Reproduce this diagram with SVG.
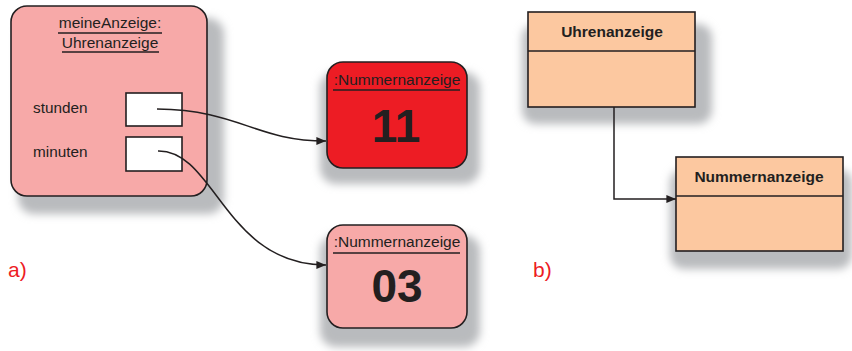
<svg xmlns="http://www.w3.org/2000/svg" width="852" height="351" viewBox="0 0 852 351">
<style>
.t{font-family:"Liberation Sans",Arial,sans-serif;fill:#231f20}
.obj{stroke:#231f20;stroke-width:1.6}
.ul{stroke:#231f20;stroke-width:1.5}
.cls{fill:#fcc8a0;stroke:#231f20;stroke-width:1.6}
.sh{fill:#b9bbbe;filter:url(#blur)}
.con{fill:none;stroke:#231f20;stroke-width:1.5}
.lbl{font-family:"Liberation Sans",Arial,sans-serif;fill:#ed1c24;font-size:21px}
</style>
<defs>
<filter id="blur" x="-20%" y="-20%" width="140%" height="140%"><feGaussianBlur stdDeviation="4"/></filter>
<marker id="arr" viewBox="0 0 12 10" refX="12" refY="5" markerWidth="12" markerHeight="8" markerUnits="userSpaceOnUse" orient="auto"><path d="M0,0 L12,5 L0,10 z" fill="#231f20"/></marker>
</defs>
<rect width="852" height="351" fill="#fff"/>

<g id="meineAnzeige">
<rect class="sh" x="18" y="18" width="206" height="196" rx="16"/>
<rect class="obj" x="11" y="6" width="196" height="190" rx="16" fill="#f7a9a8"/>
<text class="t" x="110" y="28" font-size="15.5" text-anchor="middle">meineAnzeige:</text>
<line class="ul" x1="58" y1="33" x2="162" y2="33"/>
<text class="t" x="110" y="48" font-size="15.5" text-anchor="middle">Uhrenanzeige</text>
<line class="ul" x1="62" y1="52" x2="159" y2="52"/>
<text class="t" x="33" y="113" font-size="15.3">stunden</text>
<text class="t" x="33" y="157" font-size="15.3">minuten</text>
<rect class="obj" x="126" y="93" width="56" height="33" fill="#fff"/>
<rect class="obj" x="126" y="137" width="56" height="34" fill="#fff"/>
</g>

<g id="nummer11">
<rect class="sh" x="320" y="72" width="160" height="112" rx="16"/>
<rect class="obj" x="327" y="62" width="140" height="106" rx="16" fill="#ed1c24"/>
<text class="t" x="397" y="85" font-size="15.5" text-anchor="middle">:Nummernanzeige</text>
<line class="ul" x1="333" y1="90" x2="460" y2="90"/>
<text class="t" x="396" y="142" font-size="46" font-weight="bold" text-anchor="middle">11</text>
</g>

<g id="nummer03">
<rect class="sh" x="320" y="235" width="160" height="112" rx="16"/>
<rect class="obj" x="327" y="225" width="140" height="103" rx="16" fill="#f7a9a8"/>
<text class="t" x="397" y="247" font-size="15.5" text-anchor="middle">:Nummernanzeige</text>
<line class="ul" x1="333" y1="253" x2="460" y2="253"/>
<text class="t" x="397" y="302" font-size="46" font-weight="bold" text-anchor="middle">03</text>
</g>

<g id="Uhrenanzeige">
<rect class="sh" x="522" y="24" width="190" height="100" rx="14"/>
<rect class="cls" x="528" y="12" width="167" height="95"/>
<line class="ul" x1="528" y1="51" x2="695" y2="51"/>
<text class="t" x="612" y="37" font-size="15.5" font-weight="bold" text-anchor="middle">Uhrenanzeige</text>
</g>

<g id="Nummernanzeige">
<rect class="sh" x="670" y="169" width="182" height="100" rx="14"/>
<rect class="cls" x="676" y="157" width="167" height="94"/>
<line class="ul" x1="676" y1="196" x2="843" y2="196"/>
<text class="t" x="759" y="182" font-size="15.5" font-weight="bold" text-anchor="middle">Nummernanzeige</text>
</g>

<g id="connectors">
<path class="con" d="M157,109 C240,110 255,141 326,141" marker-end="url(#arr)"/>
<path class="con" d="M158,151 C215,150 225,265 326,265" marker-end="url(#arr)"/>
<path class="con" d="M614,107 L614,199 L676,199" marker-end="url(#arr)"/>
</g>

<text class="lbl" x="8" y="277">a)</text>
<text class="lbl" x="533" y="277">b)</text>
</svg>
